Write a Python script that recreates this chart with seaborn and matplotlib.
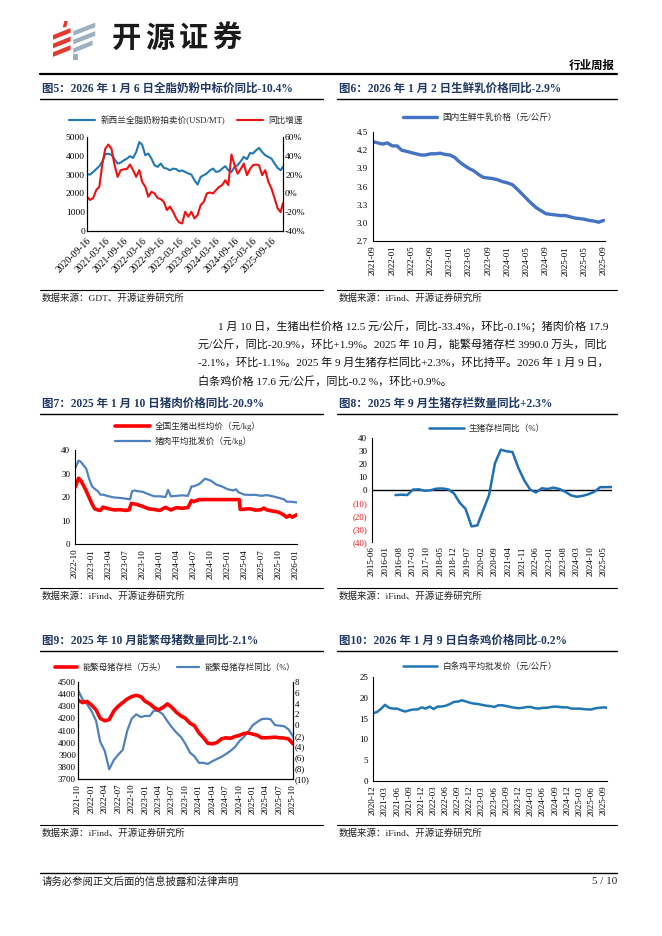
import numpy as np
import pandas as pd
import matplotlib
matplotlib.use("Agg")
import matplotlib.pyplot as plt
from matplotlib.lines import Line2D
from matplotlib.patches import Polygon
import seaborn as sns

W, H = 662, 936

# ---------------- data ----------------
# fig5: GDT whole milk powder auction price and yoy
gdt_dates = list(pd.date_range("2020-09-01", "2025-12-01", freq="MS") + pd.Timedelta(days=15)) + [pd.Timestamp("2026-01-06")]
gdt_price = [3020, 3000, 3140, 3290,
             3450, 3700, 4100, 4100, 4060, 3820, 3590, 3640, 3760, 3850, 3980, 3890,
             4200, 4730, 4590, 4030, 4120, 3850, 3500, 3410, 3590, 3360, 3320, 3230,
             3320, 3290, 3180, 3220, 3140, 3060, 3000, 2700, 2470, 2880, 2970, 3060,
             3230, 3320, 3140, 3180, 3320, 3450, 3230, 3140, 3410, 3500, 3710, 3940,
             3820, 4150, 4120, 4290, 4420, 4200, 4030, 3940, 3850, 3590, 3360, 3230,
             3410]
gdt_yoy = [-3.6, -7, -5, 3.5,
           7, 32, 47.6, 52, 47.6, 30, 17.6, 24.7, 25.7, 26, 30.7, 24.7,
           17.6, 24.7, 12.3, 7, -3.6, 1.7, 0, -5, -6, -9, -17.7, -14,
           -19.5, -26.6, -30.8, -32, -19.5, -24.8, -19.5, -26.6, -23, -12.4, -9, 0,
           1, 0, 3.5, 7, 8.8, 14, 8.8, 41.3, 30, 21, 26, 31.7,
           19.4, 26, 30, 30.7, 30, 19.4, 24.7, 12.3, 5.2, -5, -16, -20,
           -10.4]
gdt_ticks = ["2020-09-16", "2021-03-16", "2021-09-16", "2022-03-16", "2022-09-16", "2023-03-16",
             "2023-09-16", "2024-03-16", "2024-09-16", "2025-03-16", "2025-09-16"]

# fig6: raw milk price
milk_dates = pd.date_range("2021-09-01", "2025-09-01", freq="MS")
milk_price = [4.34, 4.32, 4.30, 4.32, 4.27, 4.27, 4.20, 4.18, 4.16, 4.14,
              4.12, 4.12, 4.14, 4.14, 4.15, 4.13, 4.12, 4.08, 4.01, 3.95,
              3.90, 3.86, 3.80, 3.75, 3.74, 3.73, 3.71, 3.68, 3.66, 3.63,
              3.56, 3.48, 3.40, 3.32, 3.25, 3.20, 3.15, 3.14, 3.13, 3.12,
              3.12, 3.10, 3.08, 3.07, 3.06, 3.04, 3.03, 3.01, 3.04]
milk_ticks = ["2021-09", "2022-01", "2022-05", "2022-09", "2023-01", "2023-05", "2023-09",
              "2024-01", "2024-05", "2024-09", "2025-01", "2025-05", "2025-09"]

# fig7: hog price / pork wholesale price
hog_dates = ["2022-10-01", "2022-10-20", "2022-11-01", "2022-11-15", "2022-12-01", "2022-12-15",
             "2023-01-01", "2023-01-15", "2023-02-01", "2023-02-15", "2023-03-01", "2023-04-01",
             "2023-05-01", "2023-06-01", "2023-07-01", "2023-07-20", "2023-08-01", "2023-09-01",
             "2023-10-01", "2023-11-01", "2023-12-01", "2024-01-01", "2024-02-01", "2024-03-01",
             "2024-04-01", "2024-05-01", "2024-06-01", "2024-06-20", "2024-07-01", "2024-08-01",
             "2025-03-05", "2025-03-10", "2025-04-01", "2025-05-01", "2025-06-01", "2025-07-01",
             "2025-07-15", "2025-08-01", "2025-09-01", "2025-10-01", "2025-11-01", "2025-11-15",
             "2025-12-01", "2025-12-15", "2026-01-10"]
hog_price = [24, 28, 27, 25, 22.5, 20,
             17, 15, 14.5, 14.3, 15.7, 15,
             14.5, 14.6, 14.3, 14.5, 17.3, 16.8,
             16.0, 15.0, 14.7, 14.3, 15.6, 14.5,
             15.5, 15.2, 15.5, 18.5, 18.0, 18.9,
             18.9, 14.7, 14.8, 15.0, 14.4, 14.6,
             15.3, 14.5, 14.0, 13.6, 12.3, 11.4,
             12.2, 11.4, 12.5]
pork_dates = ["2022-10-01", "2022-10-20", "2022-11-01", "2022-12-01", "2022-12-15", "2023-01-01",
              "2023-01-15", "2023-02-01", "2023-02-15", "2023-03-01", "2023-04-01", "2023-05-01",
              "2023-06-01", "2023-07-01", "2023-07-25", "2023-08-05", "2023-08-20", "2023-09-01",
              "2023-10-01", "2023-11-01", "2023-12-01", "2024-01-01", "2024-02-01", "2024-02-15",
              "2024-03-01", "2024-04-01", "2024-05-01", "2024-06-01", "2024-06-20", "2024-07-01",
              "2024-08-01", "2024-09-01", "2024-10-01", "2024-11-01", "2024-12-01", "2025-01-01",
              "2025-02-01", "2025-02-15", "2025-03-01", "2025-04-01", "2025-05-01", "2025-06-01",
              "2025-07-01", "2025-08-01", "2025-09-01", "2025-10-01", "2025-11-01", "2025-11-15",
              "2025-12-01", "2026-01-10"]
pork_price = [32, 35.5, 35, 32, 28, 24.5,
              23.5, 22.5, 21, 21, 20.3, 19.8,
              19.6, 19.3, 19.0, 22.5, 22.8, 22.5,
              22.2, 21.2, 20.3, 20.3, 20.0, 23.0,
              20.3, 20.5, 20.7, 20.5, 24.5, 24.5,
              25.5, 27.8, 27.0, 25.3, 24.5, 23.3,
              22.8, 23.3, 22.0, 21.0, 20.9, 20.9,
              20.5, 20.8, 20.3, 19.7, 19.0, 18.0,
              18.0, 17.7]
pork_ticks = ["2022-10", "2023-01", "2023-04", "2023-07", "2023-10", "2024-01", "2024-04",
              "2024-07", "2024-10", "2025-01", "2025-04", "2025-07", "2025-10", "2026-01"]

# fig8: hog inventory yoy (quarterly)
herd_dates = pd.date_range("2016-06-01", "2025-09-01", freq="QS-MAR")
herd_yoy = [-3.9, -3.6, -3.9,
            0.3, 0.5, -0.6, -0.2,
            1.0, 1.2, 0.5, -2.6,
            -9.8, -14.6, -28.0, -27.2,
            -15.5, -3.9, 20.6, 31.0,
            29.8, 29.2, 17.0, 7.5,
            0.5, -1.9, 1.3, 0.8,
            1.8, 0.8, -1.3, -4.1,
            -5.2, -4.5, -3.2, -1.3,
            2.2, 2.2, 2.3]
herd_ticks = ["2015-06", "2016-01", "2016-08", "2017-03", "2017-10", "2018-05", "2018-12",
              "2019-07", "2020-02", "2020-09", "2021-04", "2021-11", "2022-06", "2023-01",
              "2023-08", "2024-03", "2024-10", "2025-05"]

# fig9: breeding sows stock and yoy
sow_dates = pd.date_range("2021-10-01", "2025-10-01", freq="MS")
sow_stock = [4350, 4330, 4340, 4310, 4270, 4200, 4180, 4190, 4260, 4300,
             4330, 4360, 4380, 4390, 4380, 4340, 4320, 4290, 4270, 4290,
             4320, 4290, 4250, 4220, 4200, 4160, 4140, 4080, 4040, 3995,
             3990, 4000, 4030, 4040, 4035, 4050, 4060, 4075, 4080, 4070,
             4060, 4040, 4040, 4042, 4045, 4040, 4038, 4030, 3990]
sow_yoy = [6.5, 4.8, 3.9, 2.6, 0.8, -3.1, -4.8, -8.2, -6.5, -5.5,
           -4.6, -1.0, 1.2, 2.0, 1.5, 1.7, 1.7, 2.7, 2.6, 2.0,
           0.7, -0.4, -1.4, -2.2, -3.5, -5.1, -5.8, -7.0, -7.0, -7.2,
           -6.7, -6.3, -5.9, -5.4, -4.8, -4.1, -3.0, -2.2, -1.2, 0.0,
           0.6, 1.1, 1.2, 1.1, 0.0, -0.1, -0.2, -0.8, -2.1]
sow_ticks = ["2021-10", "2022-01", "2022-04", "2022-07", "2022-10", "2023-01", "2023-04",
             "2023-07", "2023-10", "2024-01", "2024-04", "2024-07", "2024-10", "2025-01",
             "2025-04", "2025-07", "2025-10"]

# fig10: white-striped chicken wholesale price
chicken_dates = list(pd.date_range("2020-12-01", "2025-09-01", freq="MS")) + [pd.Timestamp("2025-09-25")]
chicken_price = [16.3, 16.6, 17.4, 18.3, 17.6, 17.4, 17.4, 17.0, 16.7, 17.0,
                 17.2, 17.2, 17.7, 17.4, 17.9, 17.3, 17.9, 17.9, 18.1, 18.5,
                 19.0, 19.1, 19.4, 19.1, 18.8, 18.6, 18.5, 18.3, 18.1, 18.0,
                 17.8, 18.2, 18.2, 18.0, 17.8, 17.6, 17.5, 17.6, 17.8, 17.8,
                 17.5, 17.4, 17.6, 17.6, 17.8, 17.9, 17.8, 17.7, 17.7, 17.4,
                 17.4, 17.4, 17.3, 17.2, 17.2, 17.5, 17.6, 17.7, 17.6]
chicken_ticks = ["2020-12", "2021-03", "2021-06", "2021-09", "2021-12", "2022-03", "2022-06",
                 "2022-09", "2022-12", "2023-03", "2023-06", "2023-09", "2023-12", "2024-03",
                 "2024-06", "2024-09", "2024-12", "2025-03", "2025-06", "2025-09"]

paragraph = ["1 月 10 日，生猪出栏价格 12.5 元/公斤，同比-33.4%，环比-0.1%；猪肉价格 17.9",
             "元/公斤，同比-20.9%，环比+1.9%。2025 年 10 月，能繁母猪存栏 3990.0 万头，同比",
             "-2.1%，环比-1.1%。2025 年 9 月生猪存栏同比+2.3%，环比持平。2026 年 1 月 9 日，",
             "白条鸡价格 17.6 元/公斤，同比-0.2 %，环比+0.9%。"]

# ---------------- style ----------------
sns.set_style("white")
plt.rcParams["font.family"] = ["Liberation Serif", "Noto Sans CJK SC"]
plt.rcParams["axes.unicode_minus"] = False

NAVY = "#1F3864"
RED = "#FF0000"
NEG = "#E8141C"
TICK_FS = 6.5
LEG_FS = 6.2

fig = plt.figure(figsize=(W / 100, H / 100), dpi=100)


def px_axes(x0, y0, x1, y1):
    return fig.add_axes([x0 / W, 1 - y1 / H, (x1 - x0) / W, (y1 - y0) / H])


def hline(x0, x1, y, lw=0.9):
    fig.add_artist(Line2D([x0 / W, x1 / W], [1 - y / H, 1 - y / H], color="black", lw=lw))


def ftext(x, y, s, **kw):
    fig.text(x / W, 1 - y / H, s, va="center", **kw)


def panel_frame(x0, x1, ytitle, title, ysrc, src):
    ftext(x0 + 2, ytitle, title, fontsize=8.3, fontweight="bold", color=NAVY)
    hline(x0, x1, ytitle + 10, lw=1.0)
    hline(x0, x1, ysrc, lw=0.8)
    ftext(x0 + 2, ysrc + 8, src, fontsize=6.8, color="#222222")


def style_ax(ax, spines=("left", "bottom")):
    for s in ["left", "right", "top", "bottom"]:
        ax.spines[s].set_visible(s in spines)
        ax.spines[s].set_color("black")
        ax.spines[s].set_linewidth(0.8)
    ax.set_xlabel("")
    ax.set_ylabel("")
    ax.tick_params(labelsize=TICK_FS, length=2, width=0.6, pad=1.5, colors="black")


def date_ticks(ax, labels, rotation=90, fs=TICK_FS):
    ax.set_xticks(pd.to_datetime(labels))
    if rotation == 90:
        ax.set_xticklabels(labels, rotation=90, fontsize=fs)
    else:
        ax.set_xticklabels(labels, rotation=rotation, ha="right", rotation_mode="anchor",
                           fontsize=fs)


def fig_legend(axes, center, ncol=1, handlelength=3.2, fs=LEG_FS):
    handles, labels = [], []
    for a in axes:
        h, l = a.get_legend_handles_labels()
        handles += h
        labels += l
        if a.get_legend() is not None:
            a.get_legend().remove()
    fig.legend(handles, labels, loc="center", bbox_to_anchor=(center[0] / W, 1 - center[1] / H),
               ncol=ncol, frameon=False, fontsize=fs, handlelength=handlelength,
               columnspacing=1.4, labelspacing=0.6, handletextpad=0.6)


def neg_labels(ax, ticks):
    labels = [f"({abs(t):g})" if t < 0 else f"{t:g}" for t in ticks]
    ax.set_yticks(ticks)
    ax.set_yticklabels(labels)
    for lbl, t in zip(ax.get_yticklabels(), ticks):
        if t < 0:
            lbl.set_color(NEG)


# ---------------- header ----------------
logo = px_axes(53, 21, 97, 60)
logo.set_xlim(0, 1)
logo.set_ylim(0, 1)
logo.axis("off")
red_bars = [[(0.00, 0.52), (0.40, 0.70), (0.40, 0.82), (0.00, 0.64)],
            [(0.00, 0.30), (0.40, 0.48), (0.40, 0.60), (0.00, 0.42)],
            [(0.00, 0.08), (0.40, 0.26), (0.40, 0.38), (0.00, 0.20)],
            [(0.22, 0.84), (0.30, 0.84), (0.34, 1.00), (0.26, 1.00)]]
gray_bars = [[(0.46, 0.62), (0.96, 0.84), (0.96, 0.96), (0.46, 0.74)],
             [(0.46, 0.40), (0.96, 0.62), (0.96, 0.74), (0.46, 0.52)],
             [(0.46, 0.18), (0.90, 0.38), (0.90, 0.50), (0.46, 0.30)],
             [(0.46, 0.00), (0.56, 0.00), (0.56, 0.16), (0.46, 0.16)]]
for b in red_bars:
    logo.add_patch(Polygon(b, closed=True, color="#E23A2E", lw=0))
for b in gray_bars:
    logo.add_patch(Polygon(b, closed=True, color="#9DB0C2", lw=0))
for i, ch in enumerate("开源证券"):
    fig.text((126 + 33.5 * i) / W, 1 - 38 / H, ch, ha="center", va="center", fontsize=21,
             fontweight="bold", color="#1A1A1A", family=["Noto Sans CJK SC"])
fig.text(615 / W, 1 - 66 / H, "行业周报", ha="right", va="center", fontsize=8.3,
         fontweight="bold", color="black")
hline(40, 617, 74, lw=1.6)

# ---------------- fig5 ----------------
panel_frame(40, 323, 89, "图5：2026 年 1 月 6 日全脂奶粉中标价同比-10.4%", 290,
            "数据来源：GDT、开源证券研究所")
df5 = pd.DataFrame({"date": gdt_dates, "price": gdt_price, "yoy": gdt_yoy})
ax5 = px_axes(87, 137, 283, 231)
sns.lineplot(data=df5, x="date", y="price", ax=ax5, color="#1F77B4", lw=1.5,
             label="新西兰全脂奶粉拍卖价(USD/MT)")
ax5r = ax5.twinx()
sns.lineplot(data=df5, x="date", y="yoy", ax=ax5r, color="#EE1111", lw=1.5, label="同比增速")
ax5.set_ylim(0, 5000)
ax5.set_yticks(np.arange(0, 5001, 1000))
ax5r.set_ylim(-40, 60)
ax5r.set_yticks(np.arange(-40, 61, 20))
ax5r.set_yticklabels([f"{v}%" for v in range(-40, 61, 20)])
ax5.set_xlim(pd.Timestamp("2020-09-16"), pd.Timestamp("2026-01-08"))
style_ax(ax5, ("left", "bottom", "right"))
style_ax(ax5r, ("left", "bottom", "right"))
ax5.tick_params(axis="y", length=0, labelsize=6.8)
ax5r.tick_params(axis="y", length=0, labelsize=6.8)
date_ticks(ax5, gdt_ticks, rotation=45, fs=7)
fig_legend([ax5, ax5r], (186, 120), ncol=2, handlelength=3.0)

# ---------------- fig6 ----------------
panel_frame(337, 617, 89, "图6：2026 年 1 月 2 日生鲜乳价格同比-2.9%", 290,
            "数据来源：iFind、开源证券研究所")
df6 = pd.DataFrame({"date": milk_dates, "price": milk_price})
ax6 = px_axes(373, 132, 605, 241)
sns.lineplot(data=df6, x="date", y="price", ax=ax6, color="#4472C4", lw=2.4,
             label="国内生鲜牛乳价格（元/公斤）")
ax6.set_ylim(2.7, 4.5)
ax6.set_yticks(np.round(np.arange(2.7, 4.51, 0.3), 1))
ax6.set_yticklabels([f"{v:.1f}" for v in np.arange(2.7, 4.51, 0.3)])
ax6.set_xlim(pd.Timestamp("2021-09-01"), pd.Timestamp("2025-09-10"))
style_ax(ax6)
date_ticks(ax6, milk_ticks)
fig_legend([ax6], (480, 118), handlelength=4.0)

# ---------------- paragraph ----------------
for i, line in enumerate(paragraph):
    ftext(218 if i == 0 else 198, 326 + i * 18.5, line, fontsize=8.0, color="#111111")

# ---------------- fig7 ----------------
panel_frame(40, 323, 404, "图7：2025 年 1 月 10 日猪肉价格同比-20.9%", 588,
            "数据来源：iFind、开源证券研究所")
df7a = pd.DataFrame({"date": pd.to_datetime(hog_dates), "v": hog_price})
df7b = pd.DataFrame({"date": pd.to_datetime(pork_dates), "v": pork_price})
ax7 = px_axes(75, 450, 297, 544)
sns.lineplot(data=df7a, x="date", y="v", ax=ax7, color=RED, lw=2.6, label="全国生猪出栏均价（元/kg）")
sns.lineplot(data=df7b, x="date", y="v", ax=ax7, color="#4F81BD", lw=1.6, label="猪肉平均批发价（元/kg）")
ax7.set_ylim(0, 40)
ax7.set_yticks(np.arange(0, 41, 10))
ax7.set_xlim(pd.Timestamp("2022-10-01"), pd.Timestamp("2026-01-10"))
style_ax(ax7)
date_ticks(ax7, pork_ticks)
fig_legend([ax7], (188, 434), handlelength=4.0)

# ---------------- fig8 ----------------
panel_frame(337, 617, 404, "图8：2025 年 9 月生猪存栏数量同比+2.3%", 588,
            "数据来源：iFind、开源证券研究所")
df8 = pd.DataFrame({"date": herd_dates, "v": herd_yoy})
ax8 = px_axes(372, 438, 612, 542)
sns.lineplot(data=df8, x="date", y="v", ax=ax8, color="#1F6FB4", lw=1.8, label="生猪存栏同比（%）")
ax8.axhline(0, color="black", lw=1.0, zorder=1)
ax8.set_ylim(-40, 40)
ax8.set_xlim(pd.Timestamp("2015-06-01"), pd.Timestamp("2025-09-01"))
style_ax(ax8, ("left",))
neg_labels(ax8, list(range(-40, 41, 10)))
date_ticks(ax8, herd_ticks)
ax8.tick_params(axis="x", length=0, pad=3)
fig_legend([ax8], (487, 429), handlelength=4.0)

# ---------------- fig9 ----------------
panel_frame(40, 323, 641, "图9：2025 年 10 月能繁母猪数量同比-2.1%", 825,
            "数据来源：iFind、开源证券研究所")
df9 = pd.DataFrame({"date": sow_dates, "stock": sow_stock, "yoy": sow_yoy})
ax9 = px_axes(78, 682, 293, 779)
sns.lineplot(data=df9, x="date", y="stock", ax=ax9, color=RED, lw=2.6, label="能繁母猪存栏（万头）")
ax9r = ax9.twinx()
sns.lineplot(data=df9, x="date", y="yoy", ax=ax9r, color="#4F81BD", lw=1.6, label="能繁母猪存栏同比（%）")
ax9.set_zorder(ax9r.get_zorder() + 1)
ax9.patch.set_visible(False)
ax9.set_ylim(3700, 4500)
ax9.set_yticks(np.arange(3700, 4501, 100))
ax9r.set_ylim(-10, 8)
neg_labels(ax9r, list(range(-10, 9, 2)))
ax9.set_xlim(pd.Timestamp("2021-10-01"), pd.Timestamp("2025-10-01"))
style_ax(ax9, ("left", "bottom", "right"))
style_ax(ax9r, ("left", "bottom", "right"))
ax9.tick_params(axis="y", length=0)
ax9r.tick_params(axis="y", length=0)
date_ticks(ax9, sow_ticks)
fig_legend([ax9, ax9r], (175, 668), ncol=2, handlelength=2.6, fs=6.0)

# ---------------- fig10 ----------------
panel_frame(337, 617, 641, "图10：2026 年 1 月 9 日白条鸡价格同比-0.2%", 825,
            "数据来源：iFind、开源证券研究所")
df10 = pd.DataFrame({"date": chicken_dates, "v": chicken_price})
ax10 = px_axes(373, 677, 607, 781)
sns.lineplot(data=df10, x="date", y="v", ax=ax10, color="#1F77B4", lw=1.8, label="白条鸡平均批发价（元/公斤）")
ax10.set_ylim(0, 25)
ax10.set_yticks(np.arange(0, 26, 5))
ax10.set_xlim(pd.Timestamp("2020-12-01"), pd.Timestamp("2025-09-25"))
style_ax(ax10)
date_ticks(ax10, chicken_ticks)
fig_legend([ax10], (480, 667), handlelength=4.0)

# ---------------- footer ----------------
hline(40, 617, 873, lw=1.0)
ftext(42, 882, "请务必参阅正文后面的信息披露和法律声明", fontsize=7.5, color="#222222")
fig.text(617 / W, 1 - 882 / H, "5 / 10", ha="right", va="center", fontsize=8, color="#222222")

fig.savefig("out.png", dpi=100)
